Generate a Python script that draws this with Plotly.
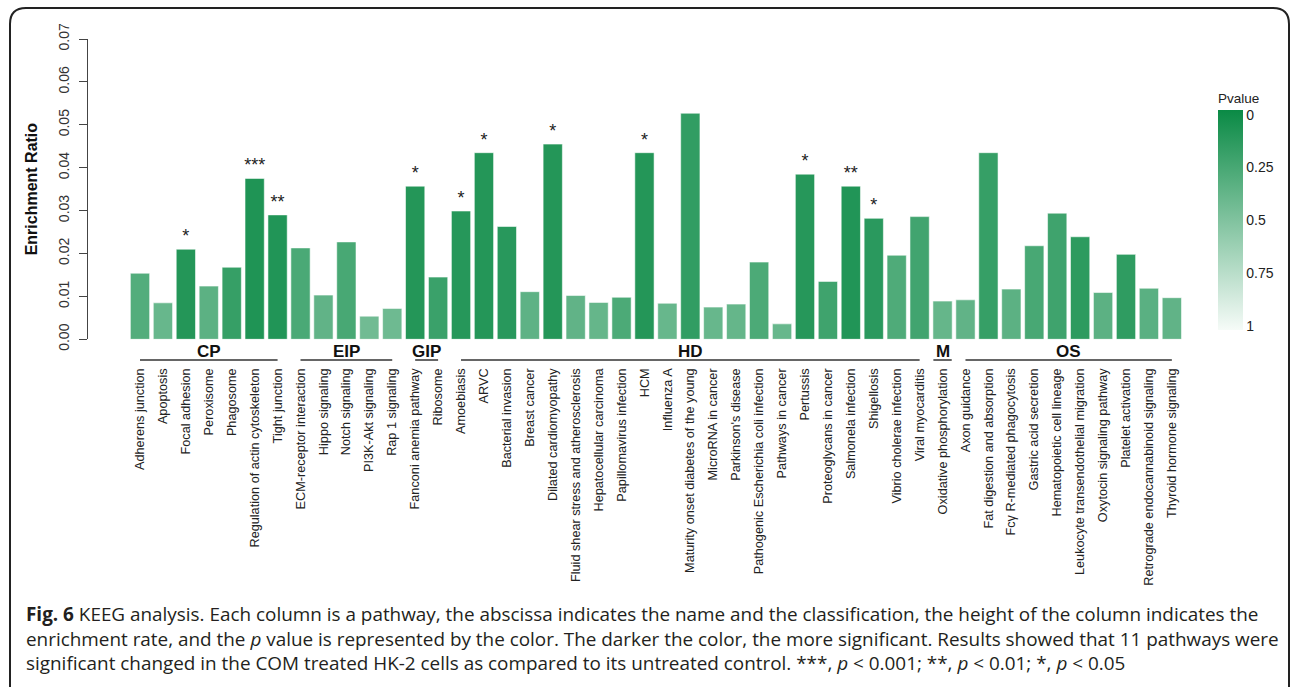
import plotly.graph_objects as go

# KEGG pathways, grouped by class
pathways = [
    "Adherens junction", "Apoptosis", "Focal adhesion", "Peroxisome", "Phagosome",
    "Regulation of actin cytoskeleton", "Tight junction",
    "ECM-receptor interaction", "Hippo signaling", "Notch signaling", "PI3K-Akt signaling",
    "Rap 1 signaling",
    "Fanconi anemia pathway", "Ribosome",
    "Amoebiasis", "ARVC", "Bacterial invasion", "Breast cancer", "Dilated cardiomyopathy",
    "Fluid shear stress and atherosclerosis", "Hepatocellular carcinoma",
    "Papillomavirus infection", "HCM", "Influenza A",
    "Maturity onset diabetes of the young", "MicroRNA in cancer", "Parkinson's disease",
    "Pathogenic Escherichia coli infection", "Pathways in cancer", "Pertussis",
    "Proteoglycans in cancer", "Salmonela infection", "Shigellosis",
    "Vibrio cholerae infection", "Viral myocarditis",
    "Oxidative phosphorylation",
    "Axon guidance", "Fat digestion and absorption", "Fcγ R-mediated phagocytosis",
    "Gastric acid secretion", "Hematopoietic cell lineage",
    "Leukocyte transendothelial migration", "Oxytocin signaling pathway",
    "Platelet activation", "Retrograde endocannabinoid signaling",
    "Thyroid hormone signaling",
]

enrichment_ratio = [
    0.0154, 0.0085, 0.0210, 0.0124, 0.0168, 0.0375, 0.0290,
    0.0213, 0.0103, 0.0227, 0.0054, 0.0072,
    0.0357, 0.0145,
    0.0299, 0.0435, 0.0263, 0.0111, 0.0455, 0.0102, 0.0086, 0.0098, 0.0435, 0.0084,
    0.0527, 0.0075, 0.0082, 0.0180, 0.0036, 0.0385, 0.0135, 0.0357, 0.0282, 0.0196,
    0.0286,
    0.0089,
    0.0092, 0.0435, 0.0117, 0.0218, 0.0294, 0.0239, 0.0109, 0.0198, 0.0119, 0.0097,
]

pvalue = [
    0.30, 0.39, 0.09, 0.34, 0.17, 0.07, 0.08,
    0.26, 0.36, 0.25, 0.43, 0.42,
    0.09, 0.19,
    0.10, 0.09, 0.11, 0.35, 0.09, 0.36, 0.38, 0.27, 0.09, 0.39,
    0.15, 0.39, 0.38, 0.27, 0.39, 0.10, 0.21, 0.08, 0.12, 0.28,
    0.22,
    0.38,
    0.36, 0.17, 0.34, 0.25, 0.21, 0.13, 0.34, 0.14, 0.33, 0.36,
]

significance = [
    "", "", "*", "", "", "***", "**",
    "", "", "", "", "",
    "*", "",
    "*", "*", "", "", "*", "", "", "", "*", "",
    "", "", "", "", "", "*", "", "**", "*", "",
    "",
    "",
    "", "", "", "", "", "", "", "", "", "",
]

# class name -> number of pathways, in drawing order
classes = ["CP", "EIP", "GIP", "HD", "M", "OS"]
class_sizes = [7, 5, 2, 21, 1, 10]

W, H = 1292, 687
FONT = "Liberation Sans, Arial, sans-serif"


def px_x(v):
    return v / W


def px_y(v):
    return 1 - v / H


# colour axis runs from p = 1 (pale) to p = 0 (dark); the bar colours use 1 - p
fig = go.Figure()
fig.add_trace(go.Bar(
    x=pathways,
    y=enrichment_ratio,
    text=significance,
    textposition="outside",
    textfont=dict(family=FONT, size=18, color="#222222"),
    constraintext="none",
    cliponaxis=False,
    marker=dict(
        color=[1 - p for p in pvalue],
        cmin=-0.02, cmax=1.023,
        colorscale=[[0, "#F6FBF8"], [1, "#0A8A45"]],
        line=dict(color="rgba(255,255,255,0.55)", width=1),
        colorbar=dict(
            title=dict(text="Pvalue", side="top",
                       font=dict(family=FONT, size=13.5, color="#222222")),
            tickvals=[1, 0.75, 0.5, 0.25, 0],
            ticktext=["0", "0.25", "0.5", "0.75", "1"],
            tickfont=dict(family=FONT, size=14, color="#222222"),
            ticks="",
            outlinewidth=0,
            thickness=25,
            len=240 / H, lenmode="fraction",
            xref="container", yref="container",
            x=px_x(1218), xanchor="left",
            y=px_y(90), yanchor="top",
            xpad=0, ypad=0,
        ),
    ),
    hovertemplate="%{x}<br>%{y}<extra></extra>",
))

# class brackets under the bars
shapes = []
annotations = []
start = 0
line_y = px_y(360)
for name, size in zip(classes, class_sizes):
    end = start + size - 1
    x0, x1 = (start, end) if size > 1 else (start - 0.4, start + 0.4)
    shapes.append(dict(type="line", xref="x", yref="paper", x0=x0, x1=x1,
                       y0=line_y, y1=line_y, line=dict(color="#333333", width=1.5)))
    annotations.append(dict(x=(start + end) / 2, xref="x", y=px_y(351), yref="paper",
                            text=f"<b>{name}</b>", showarrow=False, yanchor="middle",
                            font=dict(family=FONT, size=17, color="#111111")))
    start += size

# rounded frame around the figure
r = 16
fl, ft, fr, fb = 10, 8, 1289, 700
path = (f"M {px_x(fl)},{px_y(fb)} L {px_x(fl)},{px_y(ft + r)} "
        f"Q {px_x(fl)},{px_y(ft)} {px_x(fl + r)},{px_y(ft)} "
        f"L {px_x(fr - r)},{px_y(ft)} "
        f"Q {px_x(fr)},{px_y(ft)} {px_x(fr)},{px_y(ft + r)} "
        f"L {px_x(fr)},{px_y(fb)}")
shapes.append(dict(type="path", xref="paper", yref="paper", path=path,
                   line=dict(color="#222222", width=2)))

caption = [
    "<b>Fig. 6</b> KEEG analysis. Each column is a pathway, the abscissa indicates the name "
    "and the classification, the height of the column indicates the",
    "enrichment rate, and the <i>p</i> value is represented by the color. The darker the "
    "color, the more significant. Results showed that 11 pathways were",
    "significant changed in the COM treated HK-2 cells as compared to its untreated control. "
    "***, <i>p</i> &lt; 0.001; **, <i>p</i> &lt; 0.01; *, <i>p</i> &lt; 0.05",
]
for i, line in enumerate(caption):
    annotations.append(dict(x=px_x(24), y=px_y(614 + 24.5 * i), xref="paper", yref="paper",
                            text=line, showarrow=False, xanchor="left", yanchor="middle",
                            font=dict(family="Open Sans, sans-serif", size=18.9,
                                      color="#231F20")))

spacing = 22.93
left_px, right_px = 88, 1186
x_lo = -(140 - left_px) / spacing
x_hi = x_lo + (right_px - left_px) / spacing

fig.update_layout(
    width=W, height=H,
    margin=dict(l=0, r=0, t=0, b=0, autoexpand=False),
    paper_bgcolor="white", plot_bgcolor="white",
    bargap=0.16,
    showlegend=False,
    font=dict(family=FONT, color="#222222"),
    shapes=shapes,
    annotations=annotations,
    xaxis=dict(
        domain=[px_x(left_px), px_x(right_px)],
        range=[x_lo, x_hi],
        tickangle=-90,
        tickfont=dict(family=FONT, size=12.7, color="#222222"),
        ticks="outside", ticklen=23, tickcolor="rgba(0,0,0,0)",
        showline=False, showgrid=False, zeroline=False,
        automargin=False,
        fixedrange=True,
    ),
    yaxis=dict(
        domain=[px_y(339.3), px_y(39)],
        range=[0, 0.07],
        tickvals=[0, 0.01, 0.02, 0.03, 0.04, 0.05, 0.06, 0.07],
        ticktext=["0.00", "0.01", "0.02", "0.03", "0.04", "0.05", "0.06", "0.07"],
        tickangle=-90,
        tickfont=dict(family=FONT, size=14, color="#333333"),
        ticks="outside", ticklen=8, tickcolor="#444444",
        ticklabelstandoff=4,
        showline=True, linecolor="#444444", linewidth=1,
        showgrid=False, zeroline=False,
        title=dict(text="<b>Enrichment Ratio</b>", standoff=14,
                   font=dict(family=FONT, size=16, color="#111111")),
        automargin=False,
        fixedrange=True,
    ),
)

fig.write_html("out.html")
